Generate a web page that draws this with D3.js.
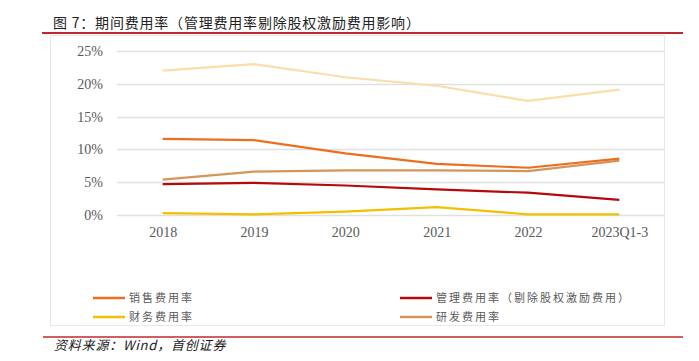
<!DOCTYPE html>
<html>
<head>
<meta charset="utf-8">
<script src="https://cdn.jsdelivr.net/npm/d3@7"></script>
<style>
  body { margin: 0; background: #fff; }
  svg { display: block; }
</style>
</head>
<body>
<div id="chart"></div>
<script>
// data (percent)
const years = ["2018", "2019", "2020", "2021", "2022", "2023Q1-3"];
const totalRate = [22.0, 23.0, 21.0, 19.7, 17.4, 19.1];
const salesRate = [11.6, 11.4, 9.4, 7.8, 7.2, 8.6];
const mgmtRate = [4.7, 4.9, 4.5, 3.9, 3.4, 2.3];
const financeRate = [0.3, 0.1, 0.5, 1.2, 0.1, 0.1];
const rdRate = [5.4, 6.6, 6.8, 6.8, 6.7, 8.3];
const yTicks = [0, 5, 10, 15, 20, 25];

const series = [
    { name: "", values: totalRate, color: "#FBDDA9" },
    { name: "研发费用率", values: rdRate, color: "#D4955A" },
    { name: "销售费用率", values: salesRate, color: "#EC6F1F" },
    { name: "管理费用率（剔除股权激励费用）", values: mgmtRate, color: "#B40A0A" },
    { name: "财务费用率", values: financeRate, color: "#F2C000" }
];

const width = 699, height = 361;
const svg = d3.select("#chart").append("svg")
    .attr("width", width)
    .attr("height", height);

// title + red rules
svg.append("text")
    .attr("x", 53).attr("y", 28)
    .style("font-family", "'Noto Sans CJK SC'")
    .style("font-size", "14px")
    .style("letter-spacing", "0.8px")
    .style("fill", "#222")
    .text("图 7：期间费用率（管理费用率剔除股权激励费用影响）");

svg.append("line")
    .attr("x1", 42).attr("x2", 683).attr("y1", 33).attr("y2", 33)
    .style("stroke", "#C0282D").style("stroke-width", 2);

// light frame
svg.append("rect")
    .attr("x", 50.5).attr("y", 35.5).attr("width", 614).attr("height", 290)
    .style("fill", "none").style("stroke", "#e8e8e8");

const x = d3.scalePoint().domain(years).range([117, 665]).padding(0.5);
const y = d3.scaleLinear().domain([0, 25]).range([215, 51]);

// gridlines
svg.selectAll(".grid")
    .data(yTicks)
    .enter()
    .append("line")
    .attr("x1", 117).attr("x2", 665)
    .attr("y1", d => Math.round(y(d)) + 0.5)
    .attr("y2", d => Math.round(y(d)) + 0.5)
    .style("stroke", "#e0e0e0").style("stroke-width", 1.5);

// y axis labels
const yAxis = svg.append("g")
    .attr("transform", "translate(103,0)")
    .call(d3.axisLeft(y).tickValues(yTicks).tickSize(0).tickPadding(0).tickFormat(d => d + "%"));
yAxis.select(".domain").remove();
yAxis.selectAll("text")
    .style("font-family", "'Liberation Serif'")
    .style("font-size", "14px")
    .style("fill", "#595959");

// x axis labels
const xAxis = svg.append("g")
    .attr("transform", "translate(0,225)")
    .call(d3.axisBottom(x).tickSize(0).tickPadding(2));
xAxis.select(".domain").remove();
xAxis.selectAll("text")
    .style("font-family", "'Liberation Serif'")
    .style("font-size", "14px")
    .style("fill", "#595959");

// lines
const line = d3.line()
    .x((d, i) => x(years[i]))
    .y(d => y(d));

svg.selectAll(".series")
    .data(series)
    .enter()
    .append("path")
    .attr("d", d => line(d.values))
    .style("fill", "none")
    .style("stroke", d => d.color)
    .style("stroke-width", 2.2);

// legend
const legendItems = [
    { s: series[2], x: 93, y: 298 },
    { s: series[3], x: 400, y: 298 },
    { s: series[4], x: 93, y: 317 },
    { s: series[1], x: 400, y: 317 }
];
const lg = svg.selectAll(".legend")
    .data(legendItems)
    .enter()
    .append("g")
    .attr("transform", d => `translate(${d.x},${d.y})`);
lg.append("line")
    .attr("x1", 0).attr("x2", 32)
    .style("stroke", d => d.s.color).style("stroke-width", 2.5);
lg.append("text")
    .attr("x", 36).attr("y", 4)
    .style("font-family", "'Noto Sans CJK SC'")
    .style("font-size", "11px")
    .style("letter-spacing", "2px")
    .style("fill", "#595959")
    .text(d => d.s.name);

// source
svg.append("line")
    .attr("x1", 43).attr("x2", 683).attr("y1", 337).attr("y2", 337)
    .style("stroke", "#C0282D").style("stroke-width", 1.5);
svg.append("text")
    .attr("x", 54).attr("y", 350)
    .style("font-family", "'Noto Sans CJK SC'")
    .style("font-size", "13px")
    .style("font-style", "italic")
    .style("letter-spacing", "0.8px")
    .style("fill", "#1a1a1a")
    .text("资料来源：Wind，首创证券");
</script>
</body>
</html>
